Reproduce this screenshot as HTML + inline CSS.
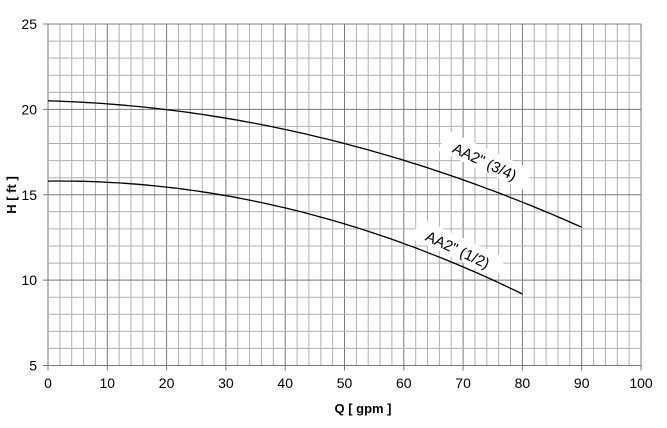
<!DOCTYPE html>
<html><head><meta charset="utf-8"><style>
html,body{margin:0;padding:0;background:#fff;}
svg{display:block;font-family:"Liberation Sans",sans-serif;}
</style></head><body>
<svg id="s" width="667" height="428" viewBox="0 0 667 428" xmlns="http://www.w3.org/2000/svg">
<g id="grid"></g>
<g id="curves" fill="none" stroke="#000" stroke-width="1.3"></g>
<g fill="#000" transform="rotate(25 485 161)"><rect x="438" y="149" width="94" height="22" fill="#fff"/><text x="485" y="167" text-anchor="middle" font-size="15">AA2" (3/4)</text></g>
<g fill="#000" transform="rotate(25 458 249)"><rect x="411" y="237" width="94" height="22" fill="#fff"/><text x="458" y="255" text-anchor="middle" font-size="15">AA2" (1/2)</text></g>
<g id="labels" font-size="14" fill="#000"></g>
<text x="363" y="413" text-anchor="middle" font-size="13" font-weight="bold">Q [ gpm ]</text>
<text transform="translate(16 195) rotate(-90)" text-anchor="middle" font-size="13" font-weight="bold">H [ ft ]</text>
</svg>
<script>
const X0=48,X1=641,Y0=365.5,Y1=24;
const px=q=>X0+(X1-X0)*q/100, py=h=>Y0-(Y0-Y1)*(h-5)/20;
let g='';
for(let q=0;q<=100;q+=2){const x=px(q).toFixed(1);const maj=q%10==0;g+=`<line x1="${x}" y1="${Y1}" x2="${x}" y2="${Y0}" stroke="${maj?'#787878':'#b0b0b0'}" stroke-width="1"/>`;}
for(let h=5;h<=25;h++){const y=py(h).toFixed(1);const maj=h%5==0;g+=`<line x1="${X0}" y1="${y}" x2="${X1}" y2="${y}" stroke="${maj?'#787878':'#b0b0b0'}" stroke-width="1"/>`;}
for(let q=0;q<=100;q+=10){g+=`<line x1="${px(q)}" y1="${Y0}" x2="${px(q)}" y2="${Y0+5}" stroke="#787878"/>`;}
for(let h=5;h<=25;h+=5){g+=`<line x1="${X0-5}" y1="${py(h)}" x2="${X0}" y2="${py(h)}" stroke="#787878"/>`;}
document.getElementById('grid').innerHTML=g;
let l='';
for(let q=0;q<=100;q+=10)l+=`<text x="${px(q)}" y="388" text-anchor="middle">${q}</text>`;
for(let h=5;h<=25;h+=5)l+=`<text x="37" y="${py(h)+5}" text-anchor="end">${h}</text>`;
document.getElementById('labels').innerHTML=l;
function curve(H0,a,b,qm){let p=[];for(let q=0;q<=qm;q+=1)p.push(px(q).toFixed(1)+','+py(H0-a*q-b*q*q).toFixed(1));return `<polyline points="${p.join(' ')}"/>`;}
document.getElementById('curves').innerHTML=curve(20.5,0.0097,0.000806,90)+curve(15.8,-0.004,0.001083,80);
</script>
</body></html>
